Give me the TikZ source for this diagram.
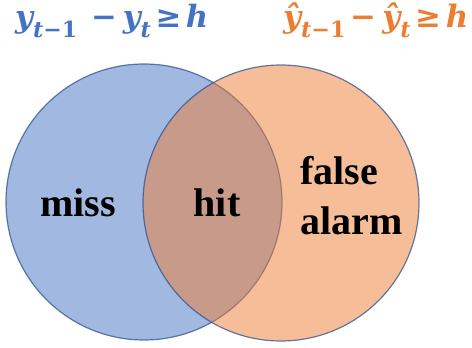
\documentclass[tikz,border=0pt]{standalone}
\usepackage{graphicx}
\usepackage{fontspec}
\setmainfont{Liberation Serif}
\newfontfamily\eqfont{DejaVu Serif}
\newcommand{\mysub}[1]{\raisebox{-0.32em}{\scalebox{0.72}{#1}}}
\definecolor{accblue}{HTML}{4472C4}
\definecolor{accorange}{HTML}{ED7D31}
\definecolor{rimcol}{HTML}{2F528F}
\tikzset{
  venn/.style={circle, minimum size=276pt, inner sep=0pt, draw=rimcol, draw opacity=0.75, line width=1.2pt, fill opacity=0.5},
  lbl/.style={font=\fontsize{40}{44}\selectfont\bfseries, text=black, inner sep=0pt},
  eq/.style={anchor=base west, inner sep=0pt, font=\eqfont\bfseries}
}
\begin{document}
\begin{tikzpicture}[x=1pt,y=1pt]
\useasboundingbox (0,0) rectangle (472,348);
\node[venn, fill=accblue] (A) at (144,146) {};
\node[venn, fill=accorange] (B) at (281,145) {};
\node[lbl, anchor=base] (miss) at (78,131) {miss};
\node[lbl, anchor=base] (hit) at (217,131) {hit};
\node[lbl, anchor=base west] (false) at (300,163) {false};
\node[lbl, anchor=base west] (alarm) at (300,113) {alarm};
\node[eq, text=accblue] (tl) at (15,320)
  {\resizebox{193pt}{!}{\itshape y\mysub{t\upshape−1}\hspace{0.45em}\upshape−\hspace{0.2em}\itshape y\mysub{t}\hspace{0.15em}\upshape≥\hspace{0.15em}\itshape h}};
\node[eq, text=accorange] (tr) at (283,320)
  {\resizebox{185pt}{!}{\itshape ŷ\mysub{t\upshape−1}\hspace{0.15em}\upshape−\hspace{0.2em}\itshape ŷ\mysub{t}\hspace{0.15em}\upshape≥\hspace{0.15em}\itshape h}};
\end{tikzpicture}
\end{document}
